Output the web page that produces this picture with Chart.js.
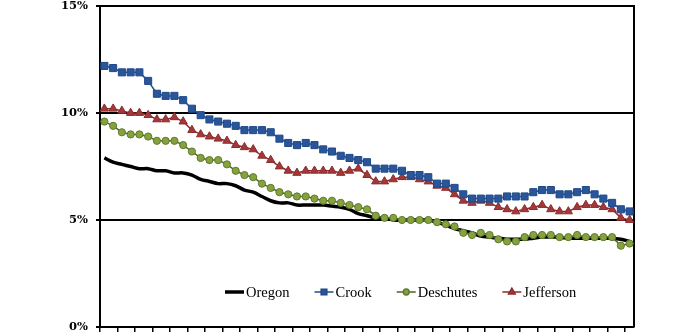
<!DOCTYPE html>
<html>
<head>
<meta charset="utf-8">
<script src="https://cdn.jsdelivr.net/npm/chart.js@4/dist/chart.umd.min.js"></script>
<style>
  html, body { margin: 0; padding: 0; background: #fff; }
  #wrap { width: 700px; height: 336px; }
</style>
</head>
<body>
<div id="wrap"><canvas id="c" width="700" height="336"></canvas></div>
<script>
// Monthly unemployment rates (%), 61 months
const periods = Array.from({ length: 61 }, (_, i) => 'M' + (i + 1));

const oregon = [
  7.9, 7.7, 7.6, 7.5, 7.4, 7.4, 7.3, 7.3, 7.2, 7.2,
  7.1, 6.9, 6.8, 6.7, 6.7, 6.6, 6.4, 6.3, 6.1, 5.9,
  5.8, 5.8, 5.7, 5.7, 5.7, 5.7, 5.65, 5.6, 5.5, 5.3,
  5.2, 5.1, 5.1, 5.0, 5.0, 5.0, 5.0, 5.0, 4.9, 4.75,
  4.6, 4.5, 4.4, 4.25, 4.2, 4.15, 4.1, 4.1, 4.1, 4.15,
  4.2, 4.2, 4.2, 4.15, 4.15, 4.15, 4.15, 4.15, 4.15, 4.1,
  4.0
];
const crook = [
  12.2, 12.1, 11.9, 11.9, 11.9, 11.5, 10.9, 10.8, 10.8, 10.6,
  10.2, 9.9, 9.7, 9.6, 9.5, 9.4, 9.2, 9.2, 9.2, 9.1,
  8.8, 8.6, 8.5, 8.6, 8.5, 8.3, 8.2, 8.0, 7.9, 7.8,
  7.7, 7.4, 7.4, 7.4, 7.3, 7.1, 7.1, 7.0, 6.7, 6.7,
  6.5, 6.2, 6.0, 6.0, 6.0, 6.0, 6.1, 6.1, 6.1, 6.3,
  6.4, 6.4, 6.2, 6.2, 6.3, 6.4, 6.2, 6.0, 5.8, 5.5,
  5.4
];
const deschutes = [
  9.6, 9.4, 9.1, 9.0, 9.0, 8.9, 8.7, 8.7, 8.7, 8.5,
  8.2, 7.9, 7.8, 7.8, 7.6, 7.3, 7.1, 7.0, 6.7, 6.5,
  6.3, 6.2, 6.1, 6.1, 6.0, 5.9, 5.9, 5.8, 5.7, 5.6,
  5.5, 5.2, 5.1, 5.1, 5.0, 5.0, 5.0, 5.0, 4.9, 4.8,
  4.7, 4.4, 4.3, 4.4, 4.3, 4.1, 4.0, 4.0, 4.2, 4.3,
  4.3, 4.3, 4.2, 4.2, 4.3, 4.2, 4.2, 4.2, 4.2, 3.8,
  3.9
];
const jefferson = [
  10.2, 10.2, 10.1, 10.0, 10.0, 9.9, 9.7, 9.7, 9.8, 9.6,
  9.2, 9.0, 8.9, 8.8, 8.7, 8.5, 8.4, 8.3, 8.0, 7.8,
  7.5, 7.3, 7.2, 7.3, 7.3, 7.3, 7.3, 7.2, 7.3, 7.4,
  7.1, 6.8, 6.8, 6.9, 7.0, 7.0, 6.9, 6.8, 6.6, 6.5,
  6.2, 5.9, 5.8, 5.9, 5.8, 5.6, 5.5, 5.4, 5.5, 5.6,
  5.7, 5.5, 5.4, 5.4, 5.6, 5.7, 5.7, 5.6, 5.5, 5.1,
  5.0
];
const yTicks = [0, 5, 10, 15];

const serif = '"Liberation Serif", "Times New Roman", serif';

// Legend drawn as a single row inside the plot, above the x axis
const innerLegend = {
  id: 'innerLegend',
  afterDatasetsDraw(chart) {
    const ctx = chart.ctx;
    const area = chart.chartArea;
    const y = area.bottom - 35;
    let x = area.left + 125;
    const lineLen = 19;
    ctx.save();
    ctx.font = '14.5px ' + serif;
    ctx.textBaseline = 'middle';
    ctx.fillStyle = '#000';
    chart.data.datasets.forEach(ds => {
      ctx.strokeStyle = ds.borderColor;
      ctx.lineWidth = ds.borderWidth;
      ctx.beginPath();
      ctx.moveTo(x, y);
      ctx.lineTo(x + lineLen, y);
      ctx.stroke();
      if (ds.pointRadius > 0) {
        ctx.fillStyle = ds.pointBackgroundColor;
        ctx.strokeStyle = ds.pointBorderColor;
        Chart.helpers.drawPoint(ctx, {
          pointStyle: ds.pointStyle,
          radius: ds.pointRadius * 0.8,
          rotation: 0,
          borderWidth: ds.pointBorderWidth
        }, x + lineLen / 2, y);
      }
      ctx.fillStyle = '#000';
      ctx.fillText(ds.label, x + lineLen + 2, y + 1);
      x += lineLen + 2 + ctx.measureText(ds.label).width + 25;
    });
    ctx.restore();
  }
};

// Right-hand frame line of the plot area
const rightFrame = {
  id: 'rightFrame',
  beforeDatasetsDraw(chart) {
    const ctx = chart.ctx;
    const a = chart.chartArea;
    ctx.save();
    ctx.strokeStyle = '#000';
    ctx.lineWidth = 2;
    ctx.beginPath();
    ctx.moveTo(a.right, a.top - 1);
    ctx.lineTo(a.right, a.bottom);
    ctx.stroke();
    ctx.restore();
  }
};

new Chart(document.getElementById('c'), {
  type: 'line',
  data: {
    labels: periods,
    datasets: [
      {
        label: 'Oregon',
        data: oregon,
        borderColor: '#000000',
        borderWidth: 3.5,
        pointRadius: 0,
        tension: 0.35,
        order: 1
      },
      {
        label: 'Crook',
        data: crook,
        borderColor: '#1F4E8C',
        borderWidth: 1.5,
        pointStyle: 'rect',
        pointRadius: 5,
        pointBackgroundColor: '#2A5599',
        pointBorderColor: '#1F4A8A',
        pointBorderWidth: 1,
        tension: 0,
        order: 0
      },
      {
        label: 'Deschutes',
        data: deschutes,
        borderColor: '#4F6228',
        borderWidth: 1.5,
        pointStyle: 'circle',
        pointRadius: 3.6,
        pointBackgroundColor: '#86A23E',
        pointBorderColor: '#5E7A2A',
        pointBorderWidth: 1,
        tension: 0,
        order: 0
      },
      {
        label: 'Jefferson',
        data: jefferson,
        borderColor: '#8B2B2B',
        borderWidth: 1.5,
        pointStyle: 'triangle',
        pointRadius: 4.8,
        pointBackgroundColor: '#A3383A',
        pointBorderColor: '#8C2C2E',
        pointBorderWidth: 1,
        tension: 0,
        order: 0
      }
    ]
  },
  options: {
    responsive: false,
    animation: false,
    devicePixelRatio: 1,
    layout: { padding: { top: 6, right: 66, bottom: 0, left: 0 } },
    plugins: {
      legend: { display: false },
      tooltip: { enabled: false }
    },
    scales: {
      x: {
        type: 'category',
        offset: true,
        ticks: { display: false, autoSkip: false },
        grid: {
          offset: true,
          drawOnChartArea: false,
          drawTicks: true,
          tickLength: 5,
          lineWidth: 1.5,
          tickColor: (c) => (c.index !== undefined && c.index % 2 === 0) ? '#000' : 'rgba(0,0,0,0)'
        },
        border: { display: true, color: '#000', width: 2 },
        afterFit: (s) => { s.height = 9; s.paddingLeft = 0; s.paddingRight = 0; }
      },
      y: {
        min: 0,
        max: 15,
        afterBuildTicks: (s) => { s.ticks = yTicks.map(v => ({ value: v })); },
        ticks: {
          callback: (v) => v + '%',
          color: '#000',
          padding: 8,
          font: { family: '"DejaVu Serif", serif', size: 11.5, weight: 'bold' }
        },
        grid: { color: '#000', lineWidth: 2, tickLength: 4, drawTicks: true },
        border: { display: true, color: '#000', width: 2 },
        afterFit: (s) => { s.width = 100; s.paddingTop = 0; s.paddingBottom = 0; }
      }
    }
  },
  plugins: [rightFrame, innerLegend]
});
</script>
</body>
</html>
